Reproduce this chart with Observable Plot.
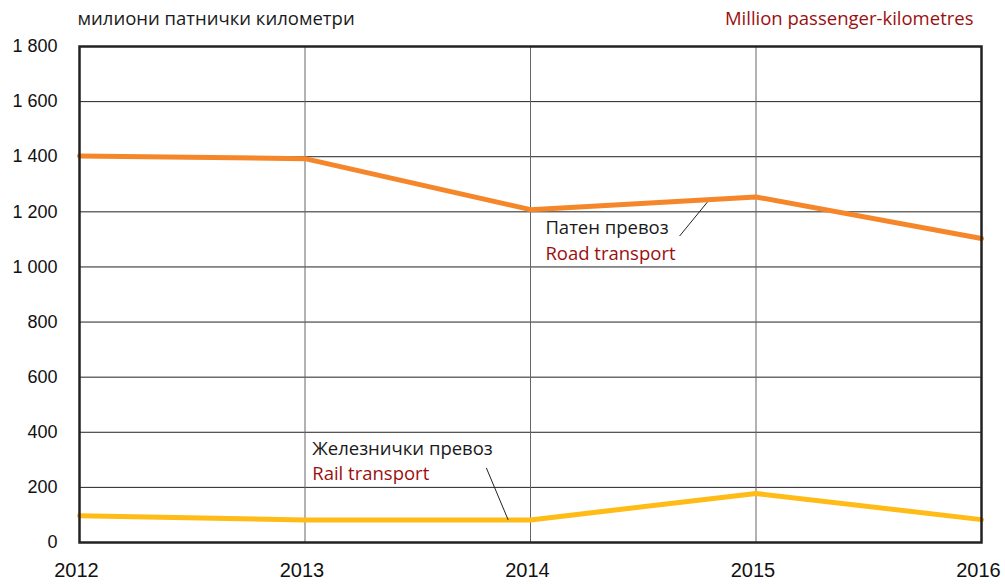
<!DOCTYPE html>
<html>
<head>
<meta charset="utf-8">
<script src="https://cdn.jsdelivr.net/npm/d3@7"></script>
<script src="https://cdn.jsdelivr.net/npm/@observablehq/plot@0.6"></script>
<style>
  body { margin: 0; background: #fff; }
  #chart svg { display: block; }
</style>
</head>
<body>
<div id="chart"></div>
<script>
const years = [2012, 2013, 2014, 2015, 2016];
const roadValues = [1403, 1393, 1208, 1254, 1103];
const railValues = [97, 82, 82, 178, 83];
const yTicks = [0, 200, 400, 600, 800, 1000, 1200, 1400, 1600, 1800];
const yTickLabels = ["0", "200", "400", "600", "800", "1 000", "1 200", "1 400", "1 600", "1 800"];
const xTickLabels = ["2012", "2013", "2014", "2015", "2016"];

const titleLeft = "милиони патнички километри";
const titleRight = "Million passenger-kilometres";

// annotation labels (data coordinates)
const labelText = ["Патен превоз", "Road transport", "Железнички превоз", "Rail transport"];
const labelX = [2014.066, 2014.066, 2013.032, 2013.032];
const labelY = [1141, 1047, 339, 249];
const labelColor = ["#1a1a1a", "#9b0f0f", "#1a1a1a", "#9b0f0f"];

// leader lines
const leaderX1 = [2014.661, 2013.804];
const leaderY1 = [1112, 271];
const leaderX2 = [2014.784, 2013.901];
const leaderY2 = [1235, 82];

const road = years.map((y, i) => ({year: y, value: roadValues[i]}));
const rail = years.map((y, i) => ({year: y, value: railValues[i]}));
const labels = labelText.map((t, i) => ({text: t, x: labelX[i], y: labelY[i], color: labelColor[i]}));
const leaders = leaderX1.map((x, i) => ({x1: x, y1: leaderY1[i], x2: leaderX2[i], y2: leaderY2[i]}));

const font = "'Open Sans', 'Noto Sans', sans-serif";
const tickFont = "'Liberation Sans', Arial, sans-serif";

const chart = Plot.plot({
  width: 1005,
  height: 584,
  marginLeft: 79,
  marginRight: 24,
  marginTop: 46,
  marginBottom: 42,
  style: {background: "#fff", overflow: "visible"},
  x: {domain: [2012, 2016]},
  y: {domain: [0, 1800]},
  marks: [
    Plot.gridY(yTicks, {stroke: "#222", strokeOpacity: 1, strokeWidth: 1}),
    Plot.gridX(years, {stroke: "#666", strokeOpacity: 1, strokeWidth: 1}),
    Plot.axisY(yTicks, {
      tickSize: 0, tickPadding: 22, fontSize: 18, fontFamily: tickFont, fill: "#111",
      tickFormat: (d) => yTickLabels[yTicks.indexOf(d)], label: null
    }),
    Plot.axisX(years, {
      tickSize: 0, tickPadding: 20, fontSize: 20, fontFamily: tickFont, fill: "#111", dx: -3,
      tickFormat: (d) => xTickLabels[years.indexOf(d)], label: null
    }),
    Plot.line(rail, {x: "year", y: "value", stroke: "#ffbb16", strokeWidth: 5}),
    Plot.line(road, {x: "year", y: "value", stroke: "#f5872a", strokeWidth: 5}),
    Plot.link(leaders, {x1: "x1", y1: "y1", x2: "x2", y2: "y2", stroke: "#222", strokeWidth: 1}),
    Plot.text(labels, {
      x: "x", y: "y", text: "text", fill: "color", textAnchor: "start", lineAnchor: "middle",
      fontSize: 18.5, fontFamily: font
    }),
    Plot.frame({stroke: "#222", strokeWidth: 2.5}),
    Plot.text([titleLeft], {
      frameAnchor: "top-left", text: (d) => d, dx: -2, dy: -27, textAnchor: "start", lineAnchor: "middle",
      fontSize: 18.5, fontFamily: font, fill: "#1a1a1a"
    }),
    Plot.text([titleRight], {
      frameAnchor: "top-right", text: (d) => d, dx: -8, dy: -27, textAnchor: "end", lineAnchor: "middle",
      fontSize: 18.5, fontFamily: font, fill: "#9b0f0f"
    })
  ]
});
document.getElementById("chart").appendChild(chart);
</script>
</body>
</html>
